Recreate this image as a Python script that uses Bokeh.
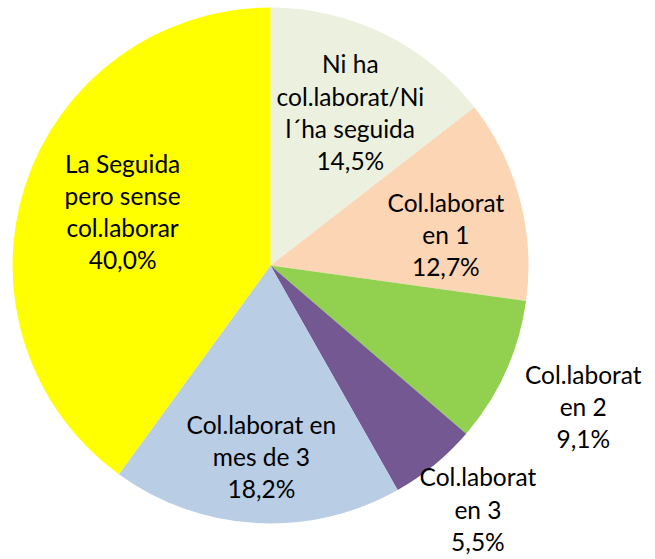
import math
from bokeh.plotting import figure
from bokeh.models import ColumnDataSource, Range1d
from bokeh.core.properties import value
from bokeh.embed import file_html
from bokeh.resources import INLINE

# data
categories = ["Ni ha\ncol.laborat/Ni\nl\u00b4ha seguida", "Col.laborat\nen 1", "Col.laborat\nen 2",
              "Col.laborat\nen 3", "Col.laborat en\nmes de 3", "La Seguida\npero sense\ncol.laborar"]
values = [14.5, 12.7, 9.1, 5.5, 18.2, 40.0]
colors = ["#EBF1DE", "#FCD5B5", "#92D050", "#735891", "#B9CDE5", "#FFFF00"]

# layout styles
W, H = 655, 559
cx, cy, R = 270, H - 265, 258
label_r = [0.67, 0.69, 1.33, 1.24, 0.74, 0.61]
label_da = [1.4, 5.0, 0.0, -1.0, -0.5, 2.0]

total = sum(values)
starts, ends, lx, ly, texts = [], [], [], [], []
acc = 0.0
for i, v in enumerate(values):
    a0 = acc / total * 360.0
    a1 = (acc + v) / total * 360.0
    acc += v
    # clockwise from top -> bokeh angle (ccw from +x)
    starts.append(math.radians(90 - a0))
    ends.append(math.radians(90 - a1))
    mid = math.radians((a0 + a1) / 2 + label_da[i])
    d = label_r[i] * R
    lx.append(cx + d * math.sin(mid))
    ly.append(cy + d * math.cos(mid))
    texts.append(categories[i] + "\n" + f"{v:.1f}".replace(".", ",") + "%")

src = ColumnDataSource(dict(start=starts, end=ends, color=colors))
lsrc = ColumnDataSource(dict(x=lx, y=ly, text=texts))

p = figure(width=W, height=H, output_backend="svg", toolbar_location=None,
           x_range=Range1d(0, W), y_range=Range1d(0, H), min_border=0)
p.axis.visible = False
p.grid.visible = False
p.outline_line_color = None
p.background_fill_color = "white"

p.wedge(x=cx, y=cy, radius=R, start_angle="end", end_angle="start",
        fill_color="color", line_color=None, source=src)

p.text(x="x", y="y", text="text", source=lsrc, text_align="center", text_baseline="middle",
       text_font=value("Lato"), text_font_size="24.5px", text_line_height=1.11, text_color="black")

open("out.html", "w").write(file_html(p, INLINE))
